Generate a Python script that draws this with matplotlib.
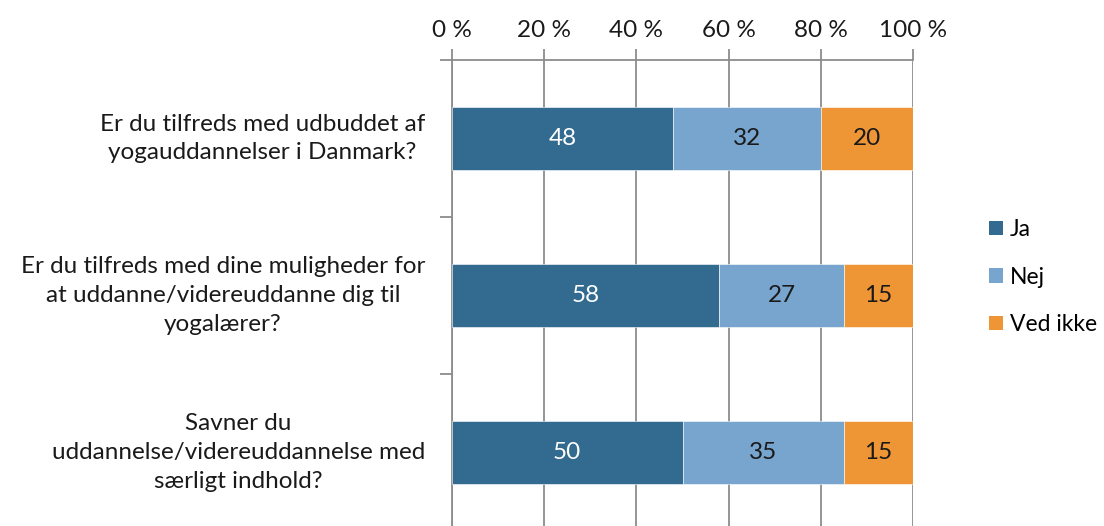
import matplotlib
matplotlib.use("Agg")
import matplotlib.pyplot as plt
from matplotlib.patches import Patch
import matplotlib.transforms as mtransforms

plt.rcParams['font.family'] = ['Lato', 'DejaVu Sans']

questions = [
    "Er du tilfreds med udbuddet af\nyogauddannelser i Danmark?",
    "Er du tilfreds med dine muligheder for\nat uddanne/videreuddanne dig til\nyogalærer?",
    "Savner du\nuddannelse/videreuddannelse med\nsærligt indhold?",
]
series_names = ["Ja", "Nej", "Ved ikke"]
ja = [48, 58, 50]
nej = [32, 27, 35]
ved_ikke = [20, 15, 15]
x_ticks = [0, 20, 40, 60, 80, 100]
x_tick_labels = ["0 %", "20 %", "40 %", "60 %", "80 %", "100 %"]

colors = ["#336A90", "#78A5CE", "#EE9536"]
text_colors = ["white", "#1a1a1a", "#1a1a1a"]
grid_color = "#8c8c8c"
fs = 17.5

W, H = 1104, 526
fig = plt.figure(figsize=(W / 100, H / 100), dpi=100)
left, right, top, bottom = 452, 913, 60, 531
ax = fig.add_axes([left / W, 1 - bottom / H, (right - left) / W, (bottom - top) / H])

ypos = list(range(len(questions)))
lefts = [0] * len(questions)
for name, vals, col, tcol in zip(series_names, [ja, nej, ved_ikke], colors, text_colors):
    bars = ax.barh(ypos, vals, left=lefts, height=0.395, color=col,
                   edgecolor="white", linewidth=0.4, label=name, zorder=3)
    for b, v in zip(bars, vals):
        ax.text(b.get_x() + b.get_width() / 2, b.get_y() + b.get_height() / 2,
                f"{v}", ha="center", va="center", color=tcol, fontsize=fs, zorder=4)
    lefts = [l + v for l, v in zip(lefts, vals)]

ax.set_xlim(0, 100)
ax.set_ylim(len(questions) - 0.5, -0.5)

ax.xaxis.tick_top()
ax.set_xticks(x_ticks)
ax.set_xticklabels(x_tick_labels, fontsize=fs, color="#1a1a1a")
ax.tick_params(axis="x", direction="out", length=8, width=1.3, color=grid_color, pad=6)
ax.grid(axis="x", color=grid_color, linewidth=1.3, zorder=0)

ax.set_yticks([-0.5, 0.5, 1.5])
ax.set_yticklabels([])
ax.tick_params(axis="y", direction="out", length=9, width=1.3, color=grid_color)

for s in ["right", "bottom"]:
    ax.spines[s].set_visible(False)
for s in ["left", "top"]:
    ax.spines[s].set_color(grid_color)
    ax.spines[s].set_linewidth(1.3)

trans = mtransforms.blended_transform_factory(ax.transAxes, ax.transData)
for i, q in enumerate(questions):
    ax.text(-27 / (right - left), i, q, transform=trans, ha="right", va="center",
            multialignment="center", fontsize=fs, color="#1a1a1a", linespacing=1.45)

handles = [Patch(facecolor=c, edgecolor="none") for c in colors]
fig.legend(handles, series_names, loc="center left", bbox_to_anchor=(989 / W, 1 - 277 / H),
           frameon=False, fontsize=16.5, handlelength=0.6, handleheight=0.6,
           handletextpad=0.3, labelspacing=1.15, borderaxespad=0, borderpad=0)

fig.savefig("out.png", dpi=100)
